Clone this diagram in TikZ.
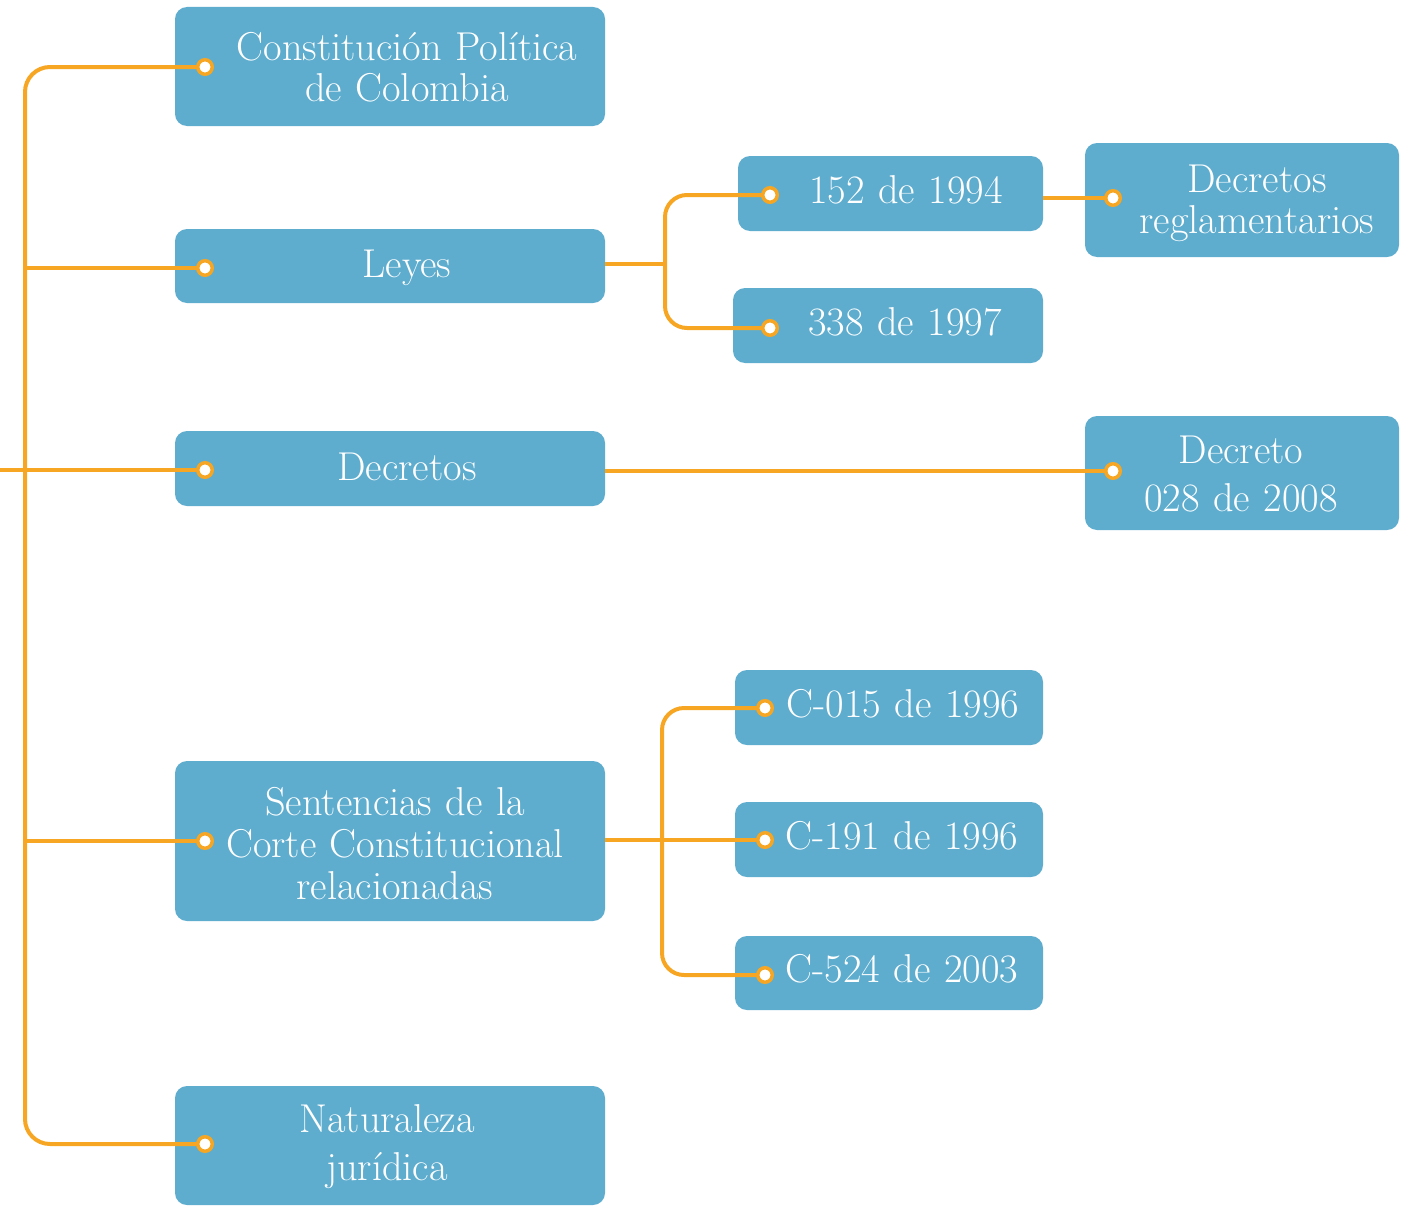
\documentclass[tikz,border=0pt]{standalone}
\usepackage{fontspec}
\pgfdeclarelayer{boxlayer}
\pgfdeclarelayer{linelayer}
\pgfsetlayers{boxlayer,linelayer,main}
\definecolor{boxblue}{HTML}{5EADCF}
\definecolor{linkorange}{HTML}{F6A623}
\tikzset{
  box/.style={rectangle, rounded corners=12pt, fill=boxblue, inner sep=0pt, anchor=center},
  lbl/.style={text=white, anchor=base, inner sep=0pt, text width=420pt, align=center,
              font=\fontsize{40.3}{41}\selectfont},
  lblwide/.style={lbl, font=\fontsize{40.3}{48}\selectfont},
  dot/.style={circle, draw=linkorange, line width=3.5pt, fill=white, minimum size=14.5pt, inner sep=0pt},
  conn/.style={draw=linkorange, line width=4pt},
}
\begin{document}
\begin{tikzpicture}[x=1pt, y=-1pt]
\useasboundingbox (0,0) rectangle (1415,1207);
% boxes
\begin{pgfonlayer}{boxlayer}
\node[box, minimum width=430pt, minimum height=119pt] (bC) at (390,66.5) {};
\node[box, minimum width=430pt, minimum height=74pt] (bL) at (390,266) {};
\node[box, minimum width=430pt, minimum height=75pt] (bD) at (390,468.5) {};
\node[box, minimum width=430pt, minimum height=160pt] (bS) at (390,841) {};
\node[box, minimum width=430pt, minimum height=119pt] (bN) at (390,1145.5) {};
\node[box, minimum width=305pt, minimum height=75pt] (b152) at (890.5,193.5) {};
\node[box, minimum width=310pt, minimum height=75pt] (b338) at (888,325.5) {};
\node[box, minimum width=308pt, minimum height=75pt] (b015) at (889,707.5) {};
\node[box, minimum width=308pt, minimum height=75pt] (b191) at (889,839.5) {};
\node[box, minimum width=308pt, minimum height=74pt] (b524) at (889,973) {};
\node[box, minimum width=314pt, minimum height=114pt] (bDR) at (1242,200) {};
\node[box, minimum width=314pt, minimum height=114pt] (bD28) at (1242,473) {};
\end{pgfonlayer}
% dots
\node[dot] (dC) at (205,67) {};
\node[dot] (dL) at (205,268) {};
\node[dot] (dD) at (205,470) {};
\node[dot] (dS) at (205,841) {};
\node[dot] (dN) at (205,1144) {};
\node[dot] (d152) at (770,195) {};
\node[dot] (d338) at (770,328) {};
\node[dot] (d015) at (765,708) {};
\node[dot] (d191) at (765,840) {};
\node[dot] (d524) at (765,975) {};
\node[dot] (dDR) at (1113,198) {};
\node[dot] (dD28) at (1113,471) {};
% helper coordinates
\coordinate (trunkB) at (25,1144);
\coordinate (stub) at (0,470);
\coordinate (jL) at (665,264);
\coordinate (jS) at (662,840);
% connectors
\begin{pgfonlayer}{linelayer}
\draw[conn, rounded corners=25pt] (dC.center) -| (trunkB) -- (dN.center);
\draw[conn] (stub) -- (dD.center);
\draw[conn] (dL.center -| trunkB) -- (dL.center);
\draw[conn] (dS.center -| trunkB) -- (dS.center);
\draw[conn] (bL.east |- jL) -- (jL);
\draw[conn, rounded corners=22pt] (d152.center) -| (jL) |- (d338.center);
\draw[conn] (bS.east |- d191) -- (d191.center);
\draw[conn, rounded corners=22pt] (d015.center) -| (jS) |- (d524.center);
\draw[conn] (b152.east |- dDR) -- (dDR.center);
\draw[conn] (bD.east |- dD28) -- (dD28.center);
\end{pgfonlayer}
% labels
\node[lbl] (tC) at (407,60) {Constitución Política\\de Colombia};
\node[lbl] (tL) at (407,277) {Leyes};
\node[lbl] (tD) at (407,480) {Decretos};
\node[lbl, font=\fontsize{40.3}{42}\selectfont] (tS) at (395,815) {Sentencias de la\\Corte Constitucional\\relacionadas};
\node[lblwide] (tN) at (387,1132) {Naturaleza\\jurídica};
\node[lbl] (t152) at (906,203) {152 de 1994};
\node[lbl] (t338) at (905,335) {338 de 1997};
\node[lbl] (t015) at (903,717) {C-015 de 1996};
\node[lbl] (t191) at (902,849) {C-191 de 1996};
\node[lbl] (t524) at (902,982) {C-524 de 2003};
\node[lbl] (tDR) at (1257,192) {Decretos\\reglamentarios};
\node[lblwide] (tD28) at (1241,463) {Decreto\\028 de 2008};
\end{tikzpicture}
\end{document}
